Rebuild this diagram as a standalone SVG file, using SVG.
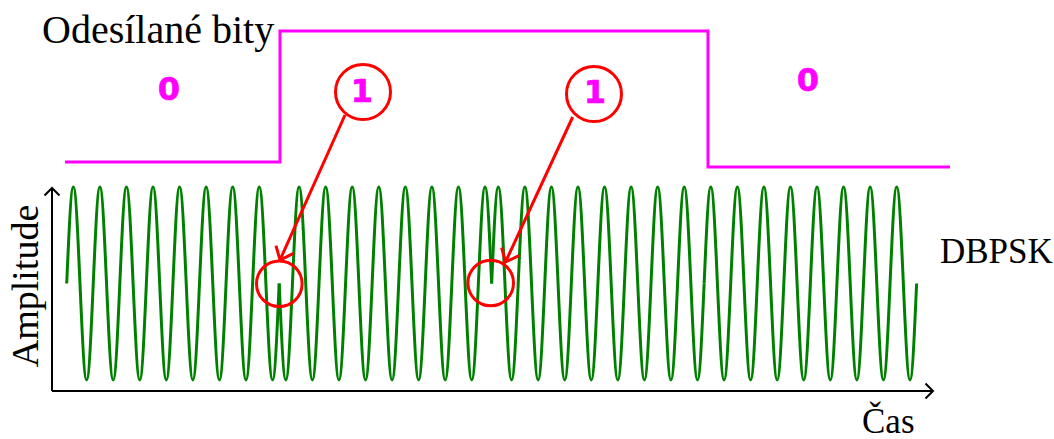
<svg xmlns="http://www.w3.org/2000/svg" xmlns:xlink="http://www.w3.org/1999/xlink" width="1054" height="439" viewBox="0 0 1054 439">
<style>
.lbl{font-family:"Liberation Serif","Times New Roman",serif;font-size:35px;fill:#000}
.bit{font-family:"DejaVu Sans",sans-serif;font-weight:bold;font-size:32px;fill:#ff00ff;stroke:#ff00ff;stroke-width:0.6;text-anchor:middle}
.wave{fill:none;stroke:#008000;stroke-width:3}
.axis{fill:none;stroke:#000;stroke-width:2}
.red{fill:none;stroke:#ff0000;stroke-width:3}
.bits{fill:none;stroke:#ff00ff;stroke-width:3}
</style>
<defs>
<marker id="ax" viewBox="-10 -10 12 20" markerWidth="12" markerHeight="20" refX="0" refY="0" orient="auto" markerUnits="userSpaceOnUse">
<path d="M-7.5,-7.5 L0,0 L-7.5,7.5" fill="none" stroke="#000" stroke-width="2"/>
</marker>
<marker id="ra" viewBox="-14 -12 16 24" markerWidth="16" markerHeight="24" refX="0" refY="0" orient="auto" markerUnits="userSpaceOnUse">
<path d="M-11.5,-9.6 L0,0 L-11.5,9.6" fill="none" stroke="#ff0000" stroke-width="3"/>
</marker>
<path id="w8" d="M0,0 c2.166,-49.43 4.237,-96.5 6.64,-96.5 c2.403,0 4.475,47.07 6.64,96.5 c2.166,49.43 4.237,96.5 6.64,96.5 c2.403,0 4.475,-47.07 6.64,-96.5 c2.166,-49.43 4.237,-96.5 6.64,-96.5 c2.403,0 4.475,47.07 6.64,96.5 c2.166,49.43 4.237,96.5 6.64,96.5 c2.403,0 4.475,-47.07 6.64,-96.5 c2.166,-49.43 4.237,-96.5 6.64,-96.5 c2.403,0 4.475,47.07 6.64,96.5 c2.166,49.43 4.237,96.5 6.64,96.5 c2.403,0 4.475,-47.07 6.64,-96.5 c2.166,-49.43 4.237,-96.5 6.64,-96.5 c2.403,0 4.475,47.07 6.64,96.5 c2.166,49.43 4.237,96.5 6.64,96.5 c2.403,0 4.475,-47.07 6.64,-96.5 c2.166,-49.43 4.237,-96.5 6.64,-96.5 c2.403,0 4.475,47.07 6.64,96.5 c2.166,49.43 4.237,96.5 6.64,96.5 c2.403,0 4.475,-47.07 6.64,-96.5 c2.166,-49.43 4.237,-96.5 6.64,-96.5 c2.403,0 4.475,47.07 6.64,96.5 c2.166,49.43 4.237,96.5 6.64,96.5 c2.403,0 4.475,-47.07 6.64,-96.5 c2.166,-49.43 4.237,-96.5 6.64,-96.5 c2.403,0 4.475,47.07 6.64,96.5 c2.166,49.43 4.237,96.5 6.64,96.5 c2.403,0 4.475,-47.07 6.64,-96.5 c2.166,-49.43 4.237,-96.5 6.64,-96.5 c2.403,0 4.475,47.07 6.64,96.5 c2.166,49.43 4.237,96.5 6.64,96.5 c2.403,0 4.475,-47.07 6.64,-96.5"/>
</defs>
<rect width="1054" height="439" fill="#fff"/>
<g id="axes">
<path class="axis" d="M52,391 L52,188" marker-end="url(#ax)"/>
<path class="axis" d="M52,391 L933,391" marker-end="url(#ax)"/>
<text class="lbl" transform="translate(38,286) rotate(-90)" text-anchor="middle" style="font-size:38px">Amplitude</text>
<text class="lbl" x="862" y="433">Čas</text>
</g>
<g id="bits">
<path class="bits" d="M65,162 L280,162 L280,31 L708,31 L708,167 L950,167"/>
<text class="lbl" x="42" y="43" style="font-size:40px">Odesílané bity</text>
<text class="bit" x="169" y="100">0</text>
<text class="bit" x="808" y="91">0</text>
</g>
<g id="signal">
<use xlink:href="#w8" class="wave" transform="translate(66.7,283.5)"/>
<use xlink:href="#w8" class="wave" transform="translate(279.18,283.5) scale(1,-1)"/>
<use xlink:href="#w8" class="wave" transform="translate(491.66,283.5)"/>
<use xlink:href="#w8" class="wave" transform="translate(704.14,283.5)"/>
<text class="lbl" x="940" y="263">DBPSK</text>
</g>
<g id="mark1">
<circle class="red" cx="363" cy="92" r="27.5"/>
<text class="bit" x="362" y="102">1</text>
<circle class="red" cx="279.3" cy="283.8" r="22.8"/>
</g>
<g id="mark2">
<circle class="red" cx="594" cy="94" r="27.5"/>
<text class="bit" x="595" y="103">1</text>
<circle class="red" cx="490.7" cy="283" r="22.8"/>
</g>
<g id="connectors">
<path class="red" d="M345,115 L280,260" marker-end="url(#ra)"/>
<path class="red" d="M572.7,117 L505.5,262" marker-end="url(#ra)"/>
</g>
</svg>
